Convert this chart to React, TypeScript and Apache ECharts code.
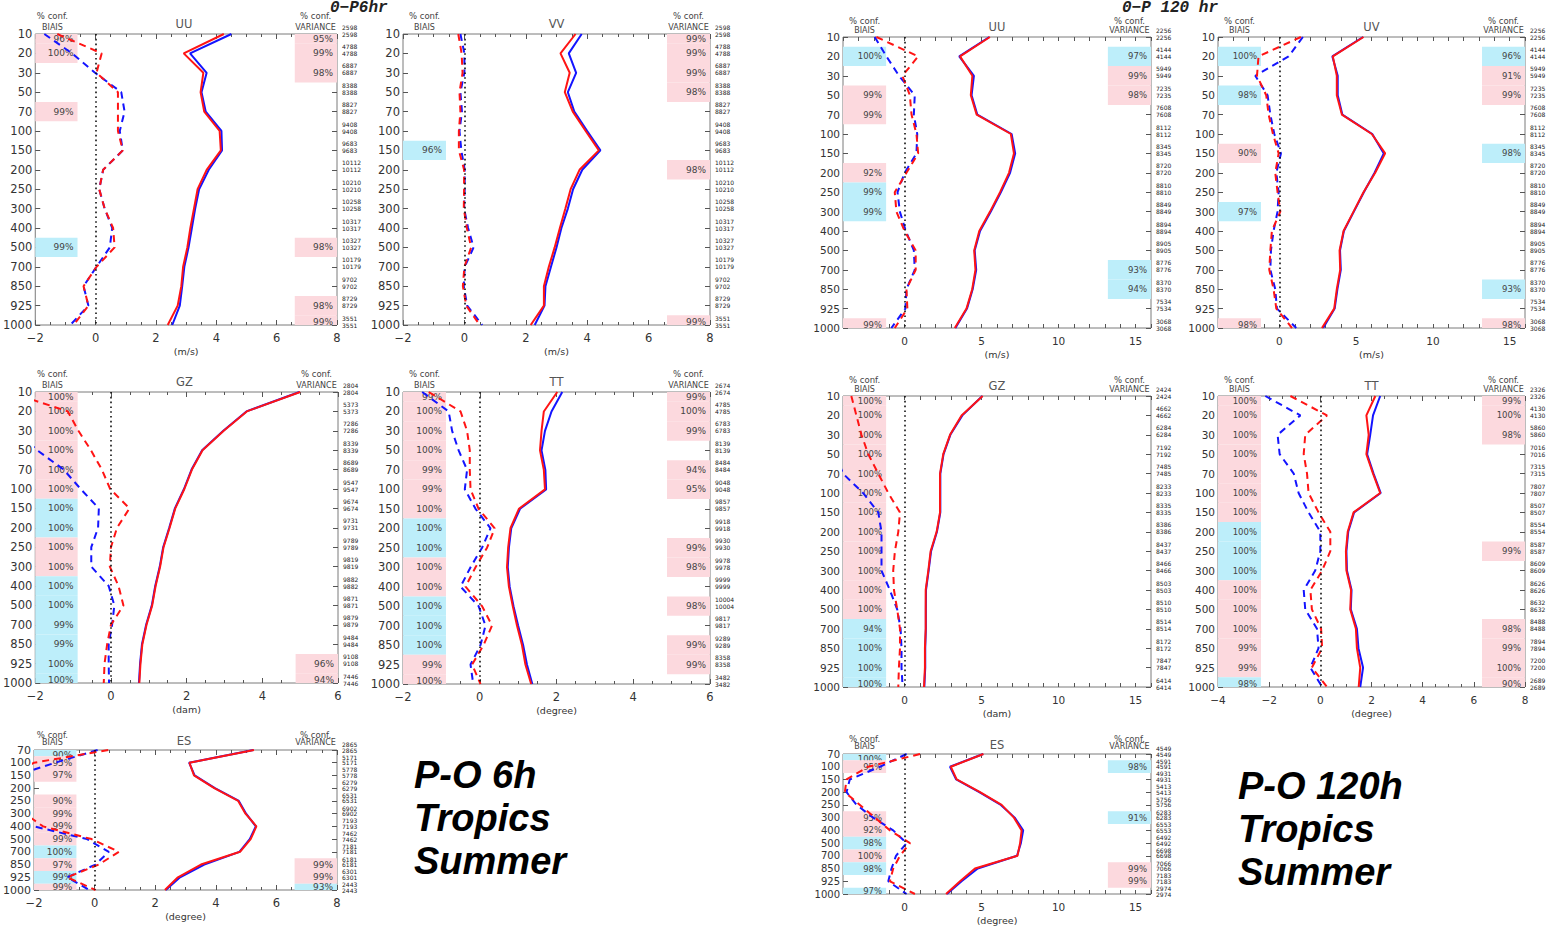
import React, { useEffect, useRef } from 'react';
import * as echarts from 'echarts';

// Pressure levels (hPa)
const LEVELS = ['10', '20', '30', '50', '70', '100', '150', '200', '250', '300', '400', '500', '700', '850', '925', '1000'];
const LEVELS_ES = ['70', '100', '150', '200', '250', '300', '400', '500', '700', '850', '925', '1000'];

// Observation counts per level
const cnt6Wind = [2598, 4788, 6887, 8388, 8827, 9408, 9683, 10112, 10210, 10258, 10317, 10327, 10179, 9702, 8729, 3551];
const cnt6Gz = [2804, 5373, 7286, 8339, 8689, 9547, 9674, 9731, 9789, 9819, 9882, 9871, 9879, 9484, 9108, 7446];
const cnt6Tt = [2674, 4785, 6783, 8139, 8484, 9048, 9857, 9918, 9930, 9978, 9999, 10004, 9817, 9289, 8358, 3482];
const cnt6Es = [2865, 5171, 5778, 6279, 6531, 6902, 7193, 7462, 7181, 6181, 6301, 2443];
const cnt120Wind = [2256, 4144, 5949, 7235, 7608, 8112, 8345, 8720, 8810, 8849, 8894, 8905, 8776, 8370, 7534, 3068];
const cnt120Gz = [2424, 4662, 6284, 7192, 7485, 8233, 8335, 8386, 8437, 8466, 8503, 8510, 8514, 8172, 7847, 6414];
const cnt120Tt = [2326, 4130, 5860, 7016, 7315, 7807, 8507, 8554, 8587, 8609, 8626, 8632, 8488, 7894, 7200, 2689];
const cnt120Es = [4549, 4591, 4931, 5413, 5756, 6283, 6553, 6492, 6698, 7066, 7183, 2974];

// 6h : bias (dashed) and standard deviation (solid), red and blue experiments
const uu6BiasRed = [-1.27, 0.2, 0.03, 0.74, 0.74, 0.74, 0.9, 0.25, 0.12, 0.3, 0.58, 0.63, 0.03, -0.4, -0.24, -0.73];
const uu6BiasBlue = [-1.7, -0.78, -0.02, 0.85, 0.96, 0.8, 0.9, 0.25, 0.12, 0.3, 0.55, 0.47, 0.03, -0.4, -0.24, -0.84];
const uu6StdRed = [4.25, 2.92, 3.57, 3.48, 3.6, 4.11, 4.15, 3.68, 3.38, 3.26, 3.14, 3.04, 2.9, 2.84, 2.72, 2.39];
const uu6StdBlue = [4.5, 3.13, 3.68, 3.51, 3.65, 4.17, 4.19, 3.75, 3.43, 3.3, 3.19, 3.08, 2.94, 2.87, 2.79, 2.54];

const vv6BiasRed = [-0.2, -0.09, -0.06, -0.16, -0.13, -0.18, -0.18, -0.01, -0.01, -0.02, 0.08, 0.22, 0.0, -0.05, 0.06, 0.5];
const vv6BiasBlue = [-0.13, 0.0, 0.0, -0.13, -0.08, -0.16, -0.1, 0.01, 0.01, -0.01, 0.12, 0.3, 0.01, -0.02, 0.09, 0.58];
const vv6StdRed = [3.62, 3.13, 3.43, 3.27, 3.53, 3.95, 4.38, 3.75, 3.46, 3.29, 3.11, 2.94, 2.75, 2.59, 2.59, 2.16];
const vv6StdBlue = [3.82, 3.4, 3.64, 3.37, 3.58, 4.0, 4.43, 3.84, 3.54, 3.37, 3.16, 3.0, 2.82, 2.64, 2.61, 2.29];

const gz6BiasRed = [-2.7, -1.14, -0.86, -0.53, -0.24, -0.02, 0.49, 0.16, 0.0, -0.03, 0.2, 0.33, 0.0, -0.1, -0.17, -0.19];
const gz6BiasBlue = [-3.5, -3.0, -2.5, -1.95, -1.25, -0.8, -0.32, -0.34, -0.52, -0.52, -0.06, 0.09, 0.03, -0.06, -0.06, -0.05];
const gz6StdRed = [5.0, 3.59, 2.98, 2.42, 2.14, 1.94, 1.7, 1.55, 1.39, 1.3, 1.18, 1.09, 0.94, 0.83, 0.78, 0.75];
const gz6StdBlue = [4.98, 3.58, 2.97, 2.41, 2.13, 1.93, 1.69, 1.54, 1.38, 1.29, 1.17, 1.08, 0.93, 0.82, 0.77, 0.74];

const tt6BiasRed = [-1.33, -0.5, -0.33, -0.26, -0.26, -0.24, -0.03, 0.39, 0.19, -0.11, -0.37, 0.06, 0.32, 0.1, -0.2, 0.02];
const tt6BiasBlue = [-1.5, -0.81, -0.72, -0.55, -0.33, -0.39, -0.11, 0.28, 0.06, -0.24, -0.5, -0.03, 0.15, 0.02, -0.24, -0.17];
const tt6StdRed = [2.02, 1.67, 1.61, 1.57, 1.67, 1.7, 1.02, 0.8, 0.74, 0.71, 0.76, 0.86, 0.97, 1.1, 1.19, 1.34];
const tt6StdBlue = [2.15, 1.87, 1.7, 1.61, 1.71, 1.73, 1.05, 0.82, 0.76, 0.73, 0.78, 0.88, 1.0, 1.13, 1.23, 1.37];

const es6BiasRed = [0.45, -2.0, -2.7, -3.0, -2.8, -2.3, -1.7, -0.1, 0.8, 0.14, -0.9, 0.03];
const es6BiasBlue = [0.1, -1.3, -2.6, -3.0, -2.9, -2.6, -2.0, -0.25, 0.47, 0.03, -0.9, -0.18];
const es6StdRed = [5.26, 3.13, 3.28, 3.95, 4.74, 4.98, 5.34, 5.15, 4.8, 3.51, 2.75, 2.32];
const es6StdBlue = [5.24, 3.12, 3.3, 3.97, 4.76, 5.0, 5.32, 5.12, 4.78, 3.62, 2.82, 2.35];

// 120h
const uu120BiasRed = [-1.83, 0.88, -0.14, 0.34, 0.45, 0.77, 0.88, 0.12, -0.64, -0.53, 0.0, 0.72, 0.72, 0.12, 0.18, -0.64];
const uu120BiasBlue = [-1.94, -1.18, -0.36, 0.66, 0.6, 0.82, 0.77, 0.0, -0.46, -0.31, 0.08, 0.6, 0.66, 0.12, 0.05, -0.86];
const uu120StdRed = [5.54, 3.6, 4.4, 4.3, 4.68, 6.9, 7.1, 6.78, 6.2, 5.55, 4.85, 4.52, 4.6, 4.39, 4.02, 3.26];
const uu120StdBlue = [5.5, 3.55, 4.5, 4.35, 4.72, 6.95, 7.18, 6.85, 6.25, 5.6, 4.9, 4.55, 4.65, 4.42, 4.05, 3.3];

const uv120BiasRed = [1.4, -1.36, -1.46, -0.86, -0.7, -0.42, -0.05, -0.27, -0.12, 0.06, -0.49, -0.59, -0.66, -0.38, -0.2, 0.82];
const uv120BiasBlue = [1.53, 0.6, -1.57, -0.77, -0.59, -0.33, 0.1, -0.2, -0.05, -0.12, -0.38, -0.55, -0.59, -0.27, -0.16, 1.1];
const uv120StdRed = [5.48, 3.48, 3.74, 3.74, 4.07, 6.02, 6.89, 6.24, 5.48, 4.83, 4.18, 3.92, 3.96, 3.74, 3.57, 2.77];
const uv120StdBlue = [5.45, 3.45, 3.8, 3.8, 4.1, 6.05, 6.8, 6.2, 5.5, 4.85, 4.2, 3.95, 4.0, 3.78, 3.6, 2.85];

const gz120BiasRed = [-3.46, -3.13, -2.8, -2.36, -1.71, -1.06, -0.3, -0.41, -0.63, -0.74, -0.69, -0.48, -0.3, -0.3, -0.37, -0.41];
const gz120BiasBlue = [-5.5, -5.2, -4.9, -4.5, -4.0, -2.7, -1.71, -1.5, -1.5, -1.5, -0.96, -0.48, -0.26, -0.2, -0.2, -0.13];
const gz120StdRed = [5.07, 3.7, 2.95, 2.51, 2.3, 2.3, 2.3, 2.08, 1.69, 1.54, 1.37, 1.37, 1.37, 1.32, 1.32, 1.26];
const gz120StdBlue = [5.05, 3.75, 2.97, 2.53, 2.32, 2.32, 2.32, 2.1, 1.72, 1.56, 1.39, 1.38, 1.38, 1.34, 1.34, 1.28];

const tt120BiasRed = [-1.17, 0.26, -0.59, -0.65, -0.52, -0.46, -0.07, 0.39, 0.39, 0.07, -0.39, -0.33, 0.03, 0.07, -0.33, 0.26];
const tt120BiasBlue = [-2.15, -0.78, -1.67, -1.59, -1.04, -0.85, -0.46, 0.0, 0.0, -0.2, -0.65, -0.59, -0.13, -0.07, -0.39, 0.07];
const tt120StdRed = [2.15, 1.8, 1.89, 1.8, 2.06, 2.34, 1.3, 1.07, 1.0, 1.02, 1.2, 1.17, 1.39, 1.43, 1.56, 1.5];
const tt120StdBlue = [2.34, 2.06, 1.95, 1.83, 2.08, 2.36, 1.32, 1.09, 1.02, 1.04, 1.22, 1.19, 1.43, 1.49, 1.67, 1.56];

const es120BiasRed = [1.0, -2.36, -3.77, -3.88, -2.9, -1.93, -0.95, 0.35, -0.3, -0.74, -0.95, 0.67];
const es120BiasBlue = [0.13, -1.6, -3.56, -3.77, -3.12, -2.04, -0.74, 0.13, -0.56, -0.85, -1.06, 0.13];
const es120StdRed = [5.12, 3.0, 3.38, 4.9, 6.3, 7.1, 7.6, 7.5, 7.33, 4.57, 3.6, 2.69];
const es120StdBlue = [5.1, 2.95, 3.35, 4.85, 6.25, 7.15, 7.7, 7.55, 7.3, 4.75, 3.7, 2.75];

// Confidence levels: [pressure level, tone (r = degraded, b = improved), percent]
type Conf = [string, 'r' | 'b', number];
const uu6BiasConf: Conf[] = [['10', 'r', 96], ['20', 'r', 100], ['70', 'r', 99], ['500', 'b', 99]];
const uu6VarConf: Conf[] = [['10', 'r', 95], ['20', 'r', 99], ['30', 'r', 98], ['500', 'r', 98], ['925', 'r', 98], ['1000', 'r', 99]];
const vv6BiasConf: Conf[] = [['150', 'b', 96]];
const vv6VarConf: Conf[] = [['10', 'r', 99], ['20', 'r', 99], ['30', 'r', 99], ['50', 'r', 98], ['200', 'r', 98], ['1000', 'r', 99]];
const gz6BiasConf: Conf[] = [
  ['10', 'r', 100], ['20', 'r', 100], ['30', 'r', 100], ['50', 'r', 100], ['70', 'r', 100], ['100', 'r', 100],
  ['150', 'b', 100], ['200', 'b', 100], ['250', 'r', 100], ['300', 'r', 100], ['400', 'b', 100], ['500', 'b', 100],
  ['700', 'b', 99], ['850', 'b', 99], ['925', 'b', 100], ['1000', 'b', 100],
];
const gz6VarConf: Conf[] = [['925', 'r', 96], ['1000', 'r', 94]];
const tt6BiasConf: Conf[] = [
  ['10', 'r', 99], ['20', 'r', 100], ['30', 'r', 100], ['50', 'r', 100], ['70', 'r', 99], ['100', 'r', 99],
  ['150', 'r', 100], ['200', 'b', 100], ['250', 'b', 100], ['300', 'r', 100], ['400', 'r', 100], ['500', 'b', 100],
  ['700', 'b', 100], ['850', 'b', 100], ['925', 'r', 99], ['1000', 'r', 100],
];
const tt6VarConf: Conf[] = [
  ['10', 'r', 99], ['20', 'r', 100], ['30', 'r', 99], ['70', 'r', 94], ['100', 'r', 95],
  ['250', 'r', 99], ['300', 'r', 98], ['500', 'r', 98], ['850', 'r', 99], ['925', 'r', 99],
];
const es6BiasConf: Conf[] = [
  ['70', 'b', 90], ['100', 'r', 95], ['150', 'r', 97], ['250', 'r', 90], ['300', 'r', 99], ['400', 'r', 99],
  ['500', 'r', 99], ['700', 'b', 100], ['850', 'r', 97], ['925', 'b', 99], ['1000', 'r', 99],
];
const es6VarConf: Conf[] = [['850', 'r', 99], ['925', 'r', 99], ['1000', 'b', 93]];

const uu120BiasConf: Conf[] = [['20', 'b', 100], ['50', 'r', 99], ['70', 'r', 99], ['200', 'r', 92], ['250', 'b', 99], ['300', 'b', 99], ['1000', 'r', 99]];
const uu120VarConf: Conf[] = [['20', 'b', 97], ['30', 'r', 99], ['50', 'r', 98], ['700', 'b', 93], ['850', 'b', 94]];
const uv120BiasConf: Conf[] = [['20', 'b', 100], ['50', 'b', 98], ['150', 'r', 90], ['300', 'b', 97], ['1000', 'r', 98]];
const uv120VarConf: Conf[] = [['20', 'b', 96], ['30', 'r', 91], ['50', 'r', 99], ['150', 'b', 98], ['850', 'b', 93], ['1000', 'r', 98]];
const gz120BiasConf: Conf[] = [
  ['10', 'r', 100], ['20', 'r', 100], ['30', 'r', 100], ['50', 'r', 100], ['70', 'r', 100], ['100', 'r', 100],
  ['150', 'r', 100], ['200', 'r', 100], ['250', 'r', 100], ['300', 'r', 100], ['400', 'r', 100], ['500', 'r', 100],
  ['700', 'b', 94], ['850', 'b', 100], ['925', 'b', 100], ['1000', 'b', 100],
];
const gz120VarConf: Conf[] = [];
const tt120BiasConf: Conf[] = [
  ['10', 'r', 100], ['20', 'r', 100], ['30', 'r', 100], ['50', 'r', 100], ['70', 'r', 100], ['100', 'r', 100],
  ['150', 'r', 100], ['200', 'b', 100], ['250', 'b', 100], ['300', 'b', 100], ['400', 'r', 100], ['500', 'r', 100],
  ['700', 'r', 100], ['850', 'r', 99], ['925', 'r', 99], ['1000', 'b', 98],
];
const tt120VarConf: Conf[] = [
  ['10', 'r', 99], ['20', 'r', 100], ['30', 'r', 98], ['250', 'r', 99], ['700', 'r', 98], ['850', 'r', 99], ['925', 'r', 100], ['1000', 'r', 90],
];
const es120BiasConf: Conf[] = [
  ['70', 'b', 100], ['100', 'r', 95], ['300', 'r', 95], ['400', 'r', 92], ['500', 'b', 98], ['700', 'r', 100], ['850', 'b', 98], ['1000', 'b', 97],
];
const es120VarConf: Conf[] = [['100', 'b', 98], ['300', 'b', 91], ['850', 'r', 99], ['925', 'r', 99]];

// Styling
const RED = '#ff1414';
const BLUE = '#1414ff';
const PINK_FILL = '#fcd9de';
const CYAN_FILL = '#bdeefa';
const FONT = 'DejaVu Sans';
const TEXT = '#333';
const BOX_FRAC = 0.14;

type Panel = {
  title: string;
  unit: string;
  box: [number, number, number, number];
  x: [number, number, number];
  labelStep?: number;
  levels: string[];
  counts: number[];
  biasRed: number[];
  biasBlue: number[];
  stdRed: number[];
  stdBlue: number[];
  biasConf: Conf[];
  varConf: Conf[];
  late: boolean;
  es: boolean;
};

const PANELS: Panel[] = [
  { title: 'UU', unit: '(m/s)', box: [31, 34, 306, 291], x: [-2, 8, 2], levels: LEVELS, counts: cnt6Wind,
    biasRed: uu6BiasRed, biasBlue: uu6BiasBlue, stdRed: uu6StdRed, stdBlue: uu6StdBlue, biasConf: uu6BiasConf, varConf: uu6VarConf, late: false, es: false },
  { title: 'VV', unit: '(m/s)', box: [403, 34, 307, 291], x: [-2, 8, 2], levels: LEVELS, counts: cnt6Wind,
    biasRed: vv6BiasRed, biasBlue: vv6BiasBlue, stdRed: vv6StdRed, stdBlue: vv6StdBlue, biasConf: vv6BiasConf, varConf: vv6VarConf, late: false, es: false },
  { title: 'GZ', unit: '(dam)', box: [31, 392, 307, 291], x: [-2, 6, 2], levels: LEVELS, counts: cnt6Gz,
    biasRed: gz6BiasRed, biasBlue: gz6BiasBlue, stdRed: gz6StdRed, stdBlue: gz6StdBlue, biasConf: gz6BiasConf, varConf: gz6VarConf, late: false, es: false },
  { title: 'TT', unit: '(degree)', box: [403, 392, 307, 292], x: [-2, 6, 2], levels: LEVELS, counts: cnt6Tt,
    biasRed: tt6BiasRed, biasBlue: tt6BiasBlue, stdRed: tt6StdRed, stdBlue: tt6StdBlue, biasConf: tt6BiasConf, varConf: tt6VarConf, late: false, es: false },
  { title: 'ES', unit: '(degree)', box: [31, 750, 306, 140], x: [-2, 8, 2], levels: LEVELS_ES, counts: cnt6Es,
    biasRed: es6BiasRed, biasBlue: es6BiasBlue, stdRed: es6StdRed, stdBlue: es6StdBlue, biasConf: es6BiasConf, varConf: es6VarConf, late: false, es: true },
  { title: 'UU', unit: '(m/s)', box: [843, 37, 308, 291], x: [-4, 16, 1], labelStep: 5, levels: LEVELS, counts: cnt120Wind,
    biasRed: uu120BiasRed, biasBlue: uu120BiasBlue, stdRed: uu120StdRed, stdBlue: uu120StdBlue, biasConf: uu120BiasConf, varConf: uu120VarConf, late: true, es: false },
  { title: 'UV', unit: '(m/s)', box: [1218, 37, 307, 291], x: [-4, 16, 1], labelStep: 5, levels: LEVELS, counts: cnt120Wind,
    biasRed: uv120BiasRed, biasBlue: uv120BiasBlue, stdRed: uv120StdRed, stdBlue: uv120StdBlue, biasConf: uv120BiasConf, varConf: uv120VarConf, late: true, es: false },
  { title: 'GZ', unit: '(dam)', box: [843, 396, 308, 291], x: [-4, 16, 1], labelStep: 5, levels: LEVELS, counts: cnt120Gz,
    biasRed: gz120BiasRed, biasBlue: gz120BiasBlue, stdRed: gz120StdRed, stdBlue: gz120StdBlue, biasConf: gz120BiasConf, varConf: gz120VarConf, late: true, es: false },
  { title: 'TT', unit: '(degree)', box: [1218, 396, 307, 291], x: [-4, 8, 2], levels: LEVELS, counts: cnt120Tt,
    biasRed: tt120BiasRed, biasBlue: tt120BiasBlue, stdRed: tt120StdRed, stdBlue: tt120StdBlue, biasConf: tt120BiasConf, varConf: tt120VarConf, late: true, es: false },
  { title: 'ES', unit: '(degree)', box: [843, 754, 308, 140], x: [-4, 16, 1], labelStep: 5, levels: LEVELS_ES, counts: cnt120Es,
    biasRed: es120BiasRed, biasBlue: es120BiasBlue, stdRed: es120StdRed, stdBlue: es120StdBlue, biasConf: es120BiasConf, varConf: es120VarConf, late: true, es: true },
];

function buildOption() {
  const grid: any[] = [];
  const xAxis: any[] = [];
  const yAxis: any[] = [];
  const series: any[] = [];
  const graphic: any[] = [];

  PANELS.forEach((p, i) => {
    const [left, top, width, height] = p.box;
    const [xmin, xmax, step] = p.x;
    const lblSize = p.late ? 10.5 : 11.5;
    const pctSize = p.late ? 8.5 : 9;
    const tickStyle = { color: '#555', width: 1 };

    grid.push({ left, top, width, height, show: true, borderColor: '#7a7a7a', borderWidth: 1, backgroundColor: 'transparent' });

    const fmt = (v: number) => {
      if (p.labelStep && Math.round(v) % p.labelStep !== 0) return '';
      return v < 0 ? '\u2212' + Math.abs(v) : String(v);
    };
    const xCommon = {
      type: 'value', gridIndex: i, min: xmin, max: xmax, interval: step,
      axisLine: { show: false, onZero: false },
      axisTick: { show: true, inside: true, length: step === 1 ? 4 : 5, lineStyle: tickStyle },
      minorTick: { show: step !== 1, splitNumber: 4, length: 3, lineStyle: tickStyle },
      splitLine: { show: false },
    };
    xAxis.push({
      ...xCommon, position: 'bottom',
      axisLabel: { fontSize: lblSize, color: TEXT, fontFamily: FONT, margin: 7, formatter: fmt },
      name: p.unit, nameLocation: 'middle', nameGap: 21,
      nameTextStyle: { fontSize: 9.5, color: TEXT, fontFamily: FONT },
    });
    xAxis.push({ ...xCommon, position: 'top', axisLabel: { show: false } });

    const yCommon = {
      type: 'category', gridIndex: i, data: p.levels, inverse: true, boundaryGap: false,
      axisLine: { show: false, onZero: false },
      axisTick: { show: true, inside: true, length: 5, alignWithLabel: true, interval: 0, lineStyle: tickStyle },
      splitLine: { show: false },
    };
    yAxis.push({
      ...yCommon, position: 'left',
      axisLabel: { interval: 0, fontSize: p.es ? lblSize - 0.5 : lblSize, color: TEXT, fontFamily: FONT, margin: 3 },
    });
    yAxis.push({
      ...yCommon, position: 'right',
      axisLabel: {
        interval: 0, fontSize: 6, lineHeight: p.es ? 5.5 : 7, color: '#222', fontFamily: FONT, margin: 5,
        formatter: (_v: string, idx: number) => `${p.counts[idx]}\n${p.counts[idx]}\n `,
      },
    });

    // Confidence boxes (left = bias, right = variance)
    const boxData: number[][] = [];
    p.biasConf.forEach(([lv, tone, pct]) => boxData.push([0, p.levels.indexOf(lv), pct, tone === 'b' ? 1 : 0, 0]));
    p.varConf.forEach(([lv, tone, pct]) => boxData.push([0, p.levels.indexOf(lv), pct, tone === 'b' ? 1 : 0, 1]));

    series.push({
      type: 'custom',
      xAxisIndex: 2 * i,
      yAxisIndex: 2 * i,
      silent: true,
      clip: false,
      z: 1,
      encode: { x: 0, y: 1 },
      data: boxData,
      renderItem: (params: any, api: any) => {
        const cs = params.coordSys;
        const idx = api.value(1);
        const pct = api.value(2);
        const tone = api.value(3);
        const side = api.value(4);
        const py = api.coord([0, idx])[1];
        const band = api.size([0, 1])[1];
        const bw = cs.width * BOX_FRAC;
        const x0 = side === 0 ? cs.x : cs.x + cs.width - bw;
        const y0 = Math.max(py - band / 2, cs.y);
        const y1 = Math.min(py + band / 2, cs.y + cs.height);
        const ty = Math.min(Math.max(py, cs.y + 5), cs.y + cs.height - 3);
        return {
          type: 'group',
          children: [
            { type: 'rect', shape: { x: x0, y: y0, width: bw, height: y1 - y0 }, style: { fill: tone ? CYAN_FILL : PINK_FILL } },
            {
              type: 'text',
              style: {
                text: pct + '%', x: x0 + bw - 4, y: ty,
                align: 'right', textAlign: 'right', verticalAlign: 'middle', textVerticalAlign: 'middle',
                fill: '#444', fontSize: pctSize, fontFamily: FONT,
              },
            },
          ],
        };
      },
    });

    const line = (name: string, values: number[], color: string, dashed: boolean, z: number, extra: any = {}) => ({
      name,
      type: 'line',
      xAxisIndex: 2 * i,
      yAxisIndex: 2 * i,
      data: values.map((v, k) => [v, p.levels[k]]),
      symbol: 'none',
      silent: true,
      z,
      lineStyle: { color, width: 2, type: dashed ? [7, 5] : 'solid' },
      ...extra,
    });

    series.push(line('bias blue', p.biasBlue, BLUE, true, 3, {
      markLine: {
        silent: true,
        symbol: ['none', 'none'],
        label: { show: false },
        lineStyle: { color: '#111', type: [1.6, 3.2], width: 1.6 },
        data: [{ xAxis: 0 }],
      },
    }));
    series.push(line('bias red', p.biasRed, RED, true, 4));
    series.push(line('std blue', p.stdBlue, BLUE, false, 3));
    series.push(line('std red', p.stdRed, RED, false, 4));

    // Panel headings
    const hs = (txt: string, x: number, y: number, size: number, color = '#444') => ({
      type: 'text', x, y, silent: true,
      style: {
        text: txt, fill: color, font: `${size}px "${FONT}"`,
        align: 'center', textAlign: 'center', verticalAlign: 'middle', textVerticalAlign: 'middle',
      },
    });
    const confY = p.es ? top - 15 : p.late ? top - 16 : top - 18;
    const subY = p.es ? top - 8 : top - 7;
    const lx = left + width * BOX_FRAC / 2;
    const rx = left + width - width * BOX_FRAC / 2;
    graphic.push(hs(p.title, left + width / 2, top - (p.es ? 9 : 10), 11.5, '#555'));
    graphic.push(hs('% conf.', lx, confY, 8.5));
    graphic.push(hs('BIAIS', lx, subY, 8));
    graphic.push(hs('% conf.', rx, confY, 8.5));
    graphic.push(hs('VARIANCE', rx, subY, 8));
  });

  // Forecast-range titles
  graphic.push({
    type: 'text', x: 330, y: 0, silent: true,
    style: { text: '0\u2212P6hr', fill: '#222', font: 'italic bold 16px "Liberation Mono"', textVerticalAlign: 'top', verticalAlign: 'top' },
  });
  graphic.push({
    type: 'text', x: 1122, y: 0, silent: true,
    style: { text: '0\u2212P 120 hr', fill: '#222', font: 'italic bold 16px "Liberation Mono"', textVerticalAlign: 'top', verticalAlign: 'top' },
  });

  // Panel set captions
  graphic.push({
    type: 'text', x: 414, y: 753, silent: true,
    style: { text: 'P-O 6h\nTropics\nSummer', fill: '#000', font: 'italic bold 38px "Liberation Sans"', lineHeight: 43 },
  });
  graphic.push({
    type: 'text', x: 1238, y: 764, silent: true,
    style: { text: 'P-O 120h\nTropics\nSummer', fill: '#000', font: 'italic bold 38px "Liberation Sans"', lineHeight: 43 },
  });

  return {
    animation: false,
    backgroundColor: '#ffffff',
    grid,
    xAxis,
    yAxis,
    series,
    graphic,
  };
}

export default function App() {
  const ref = useRef<HTMLDivElement>(null);
  useEffect(() => {
    if (!ref.current) return;
    const chart = echarts.init(ref.current, undefined, { renderer: 'svg' });
    chart.setOption(buildOption() as any);
    return () => chart.dispose();
  }, []);
  return (
    <div
      ref={ref}
      style={{ position: 'fixed', left: 0, top: 0, width: 1552, height: 930, background: '#fff' }}
    />
  );
}
